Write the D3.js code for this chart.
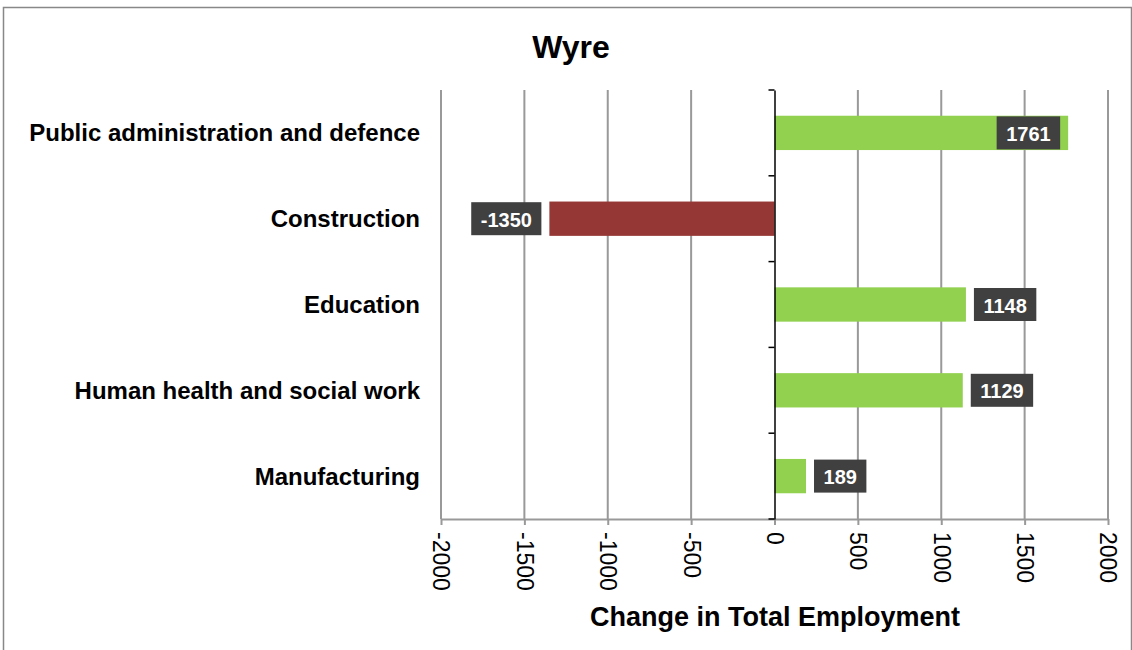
<!DOCTYPE html>
<html>
<head>
<meta charset="utf-8">
<style>
body { margin: 0; background: #fff; }
text { font-family: "Liberation Sans", Arial, sans-serif; }
</style>
</head>
<body>
<script src="https://cdn.jsdelivr.net/npm/d3@7/dist/d3.min.js"></script>
<script>
// data
var categories = ["Public administration and defence", "Construction", "Education", "Human health and social work", "Manufacturing"];
var values = [1761, -1350, 1148, 1129, 189];
var xTicks = [-2000, -1500, -1000, -500, 0, 500, 1000, 1500, 2000];

var width = 1132, height = 650;
var margin = {left: 441, right: 24, top: 90, bottom: 131};

var svg = d3.select("body").append("svg")
    .attr("width", width)
    .attr("height", height);

// outer frame
svg.append("rect")
    .attr("x", 3.5).attr("y", 7.5)
    .attr("width", width - 4).attr("height", height)
    .attr("fill", "none").attr("stroke", "#888").attr("stroke-width", 1.5);

var x = d3.scaleLinear().domain([-2000, 2000]).range([margin.left, width - margin.right]);
var y = d3.scaleBand().domain(categories).range([margin.top, height - margin.bottom]).paddingInner(0.6).paddingOuter(0.3);
var band = d3.scaleBand().domain(categories).range([margin.top, height - margin.bottom]);

// gridlines
svg.append("g").selectAll("line")
    .data(xTicks.filter(function(d) { return d != 0; }))
    .enter().append("line")
    .attr("x1", function(d) { return x(d); })
    .attr("x2", function(d) { return x(d); })
    .attr("y1", margin.top)
    .attr("y2", height - margin.bottom)
    .attr("stroke", "#999").attr("stroke-width", 2);

// bottom axis (plain hyphen for negatives, like the original)
var xAxis = svg.append("g")
    .attr("transform", "translate(0," + (height - margin.bottom) + ")")
    .call(d3.axisBottom(x).tickValues(xTicks).tickFormat(function(d) { return String(d); }).tickSize(6).tickSizeOuter(0));
xAxis.select(".domain").attr("stroke", "#999").attr("stroke-width", 2);
xAxis.selectAll(".tick line").attr("stroke", "#999").attr("stroke-width", 2);
xAxis.selectAll(".tick text")
    .attr("transform", "rotate(90)")
    .attr("x", 13).attr("y", 0).attr("dy", "0.35em")
    .style("text-anchor", "start")
    .style("font-size", "23px")
    .attr("fill", "#000");

// bars
svg.append("g").selectAll("rect")
    .data(values)
    .enter().append("rect")
    .attr("x", function(d) { return x(Math.min(0, d)); })
    .attr("y", function(d, i) { return y(categories[i]); })
    .attr("width", function(d) { return Math.abs(x(d) - x(0)); })
    .attr("height", y.bandwidth())
    .attr("fill", function(d) { return d < 0 ? "#953735" : "#92D050"; });

// zero axis
var yAxis = svg.append("g")
    .attr("transform", "translate(" + x(0) + ",0)")
    .call(d3.axisLeft(band).tickValues([]).tickSizeOuter(0));
yAxis.select(".domain").attr("stroke", "#000").attr("stroke-width", 1.5);
yAxis.selectAll("line.tk")
    .data(d3.range(categories.length + 1))
    .enter().append("line")
    .attr("class", "tk")
    .attr("x1", -6).attr("x2", 0)
    .attr("y1", function(i) { return margin.top + i * band.step(); })
    .attr("y2", function(i) { return margin.top + i * band.step(); })
    .attr("stroke", "#000").attr("stroke-width", 1.5);

// category labels
svg.append("g").selectAll("text")
    .data(categories)
    .enter().append("text")
    .attr("x", 420)
    .attr("y", function(d) { return band(d) + band.bandwidth() / 2; })
    .attr("dy", "0.35em")
    .attr("text-anchor", "end")
    .style("font-size", "24px")
    .style("font-weight", "bold")
    .text(function(d) { return d; });

// data labels
var lab = svg.append("g").selectAll("g")
    .data(values)
    .enter().append("g");
lab.each(function(d, i) {
    var g = d3.select(this);
    var t = g.append("text")
        .attr("fill", "#fff")
        .style("font-size", "20px")
        .style("font-weight", "bold")
        .attr("text-anchor", "middle")
        .attr("dy", "0.35em")
        .text(d);
    var w = t.node().getComputedTextLength() + 19;
    var cy = band(categories[i]) + band.bandwidth() / 2;
    var end = x(d);
    var cx;
    if (d < 0) cx = end - 8 - w / 2;
    else if (end + 8 + w > width - 10) cx = end - 8 - w / 2;
    else cx = end + 8 + w / 2;
    g.insert("rect", "text")
        .attr("x", cx - w / 2).attr("y", cy - 16.5)
        .attr("width", w).attr("height", 33)
        .attr("fill", "#404040");
    t.attr("x", cx).attr("y", cy + 1);
});

// title
svg.append("text")
    .attr("x", 571).attr("y", 47)
    .attr("dy", "0.35em")
    .attr("text-anchor", "middle")
    .style("font-size", "32px")
    .style("font-weight", "bold")
    .text("Wyre");

// axis title
svg.append("text")
    .attr("x", 775).attr("y", 617)
    .attr("dy", "0.35em")
    .attr("text-anchor", "middle")
    .style("font-size", "27px")
    .style("font-weight", "bold")
    .text("Change in Total Employment");
</script>
</body>
</html>
